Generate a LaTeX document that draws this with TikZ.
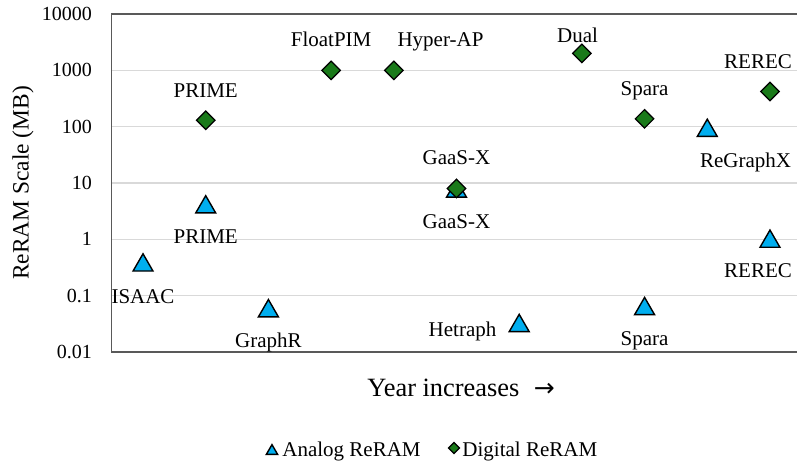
\documentclass[tikz,border=0pt]{standalone}
\usepackage{fontspec}
\setmainfont{Liberation Serif}
\newfontfamily\arrowfont{DejaVu Sans}
\usetikzlibrary{shapes.geometric}

\definecolor{analogblue}{RGB}{0,174,239}
\definecolor{digitalgreen}{RGB}{26,122,26}
\definecolor{gridgray}{RGB}{217,217,217}
\definecolor{axisgray}{RGB}{89,89,89}

\tikzset{
  analog/.style={regular polygon, regular polygon sides=3, draw=black, line width=0.7pt,
    fill=analogblue, inner sep=0pt, minimum size=11.5pt, yshift=-1.5pt},
  analogkey/.style={analog, minimum size=6.5pt, yshift=0.9pt},
  digital/.style={diamond, draw=black, line width=0.6pt, fill=digitalgreen,
    inner sep=0pt, minimum size=9.5pt},
  digitalkey/.style={digital, minimum size=5.8pt},
  lbl/.style={anchor=base, inner sep=0pt, font=\fontsize{10.5}{12}\selectfont},
  ticklbl/.style={anchor=east, inner sep=0pt, font=\fontsize{10}{12}\selectfont},
}

\begin{document}
\begin{tikzpicture}[x=31.35pt, y=28.15pt]
    \useasboundingbox (-1.281,-3.991) rectangle (11.431,4.250);

    \foreach \k in {-1,...,3}
      \draw[gridgray, line width=0.6pt] (0.5,\k) -- (11.431,\k);
    \draw[axisgray, line width=0.75pt] (11.431,4) -- (0.5,4) -- (0.5,-2) -- (11.431,-2);
    \foreach \k/\v in {-2/0.01, -1/0.1, 0/1, 1/10, 2/100, 3/1000, 4/10000}
      \node[ticklbl] (tick\k) at (0.19,\k) {\v};
    \node[rotate=90, font=\fontsize{11.7}{14}\selectfont] (ytitle) at (-0.914,1.0) {ReRAM Scale (MB)};
    \node[anchor=base west, inner sep=0pt, font=\fontsize{13.2}{16}\selectfont] (xtitle)
      at (4.573,-2.801) {Year increases\hspace{0.55em}{\arrowfont\fontsize{12.5}{16}\selectfont →}};

    \node[analog] (isaacA) at (1,{log10(0.39)}) {};
    \node[analog] (primeA) at (2,{log10(4.2)}) {};
    \node[analog] (graphrA) at (3,{log10(0.06)}) {};
    \node[analog] (gaasA) at (6,{log10(8)}) {};
    \node[analog] (hetraphA) at (7,{log10(0.032)}) {};
    \node[analog] (sparaA) at (9,{log10(0.064)}) {};
    \node[analog] (regraphxA) at (10,{log10(96)}) {};
    \node[analog] (rerecA) at (11,{log10(1.03)}) {};

    \node[digital] (primeD) at (2,{log10(130)}) {};
    \node[digital] (floatpimD) at (4,3) {};
    \node[digital] (hyperapD) at (5,3) {};
    \node[digital] (gaasD) at (6,{log10(8)}) {};
    \node[digital] (dualD) at (8,{log10(2000)}) {};
    \node[digital] (sparaD) at (9,{log10(138)}) {};
    \node[digital] (rerecD) at (11,{log10(420)}) {};

    \node[lbl] (isaacAl) at (1,-1.149) {ISAAC};
    \node[lbl] (primeAl) at (2,-0.083) {PRIME};
    \node[lbl] (graphrAl) at (3,-1.931) {GraphR};
    \node[lbl] (gaasAl) at (6,0.183) {GaaS-X};
    \node[lbl] (hetraphAl) at (6.096,-1.735) {Hetraph};
    \node[lbl] (sparaAl) at (9,-1.895) {Spara};
    \node[lbl] (regraphxAl) at (10.61,1.266) {ReGraphX};
    \node[lbl] (rerecAl) at (10.81,-0.687) {REREC};

    \node[lbl] (primeDl) at (2,2.527) {PRIME};
    \node[lbl] (floatpimDl) at (4,3.416) {FloatPIM};
    \node[lbl] (hyperapDl) at (5.745,3.416) {Hyper-AP};
    \node[lbl] (gaasDl) at (6,1.330) {GaaS-X};
    \node[lbl] (dualDl) at (7.93,3.487) {Dual};
    \node[lbl] (sparaDl) at (9,2.545) {Spara};
    \node[lbl] (rerecDl) at (10.81,3.025) {REREC};

    \node[analogkey] (keyA) at (3.057,-3.742) {};
    \node[lbl, anchor=base west] (keyAl) at (3.217,-3.867) {Analog ReRAM};
    \node[digitalkey] (keyD) at (5.96,-3.707) {};
    \node[lbl, anchor=base west] (keyDl) at (6.088,-3.867) {Digital ReRAM};
\end{tikzpicture}
\end{document}
